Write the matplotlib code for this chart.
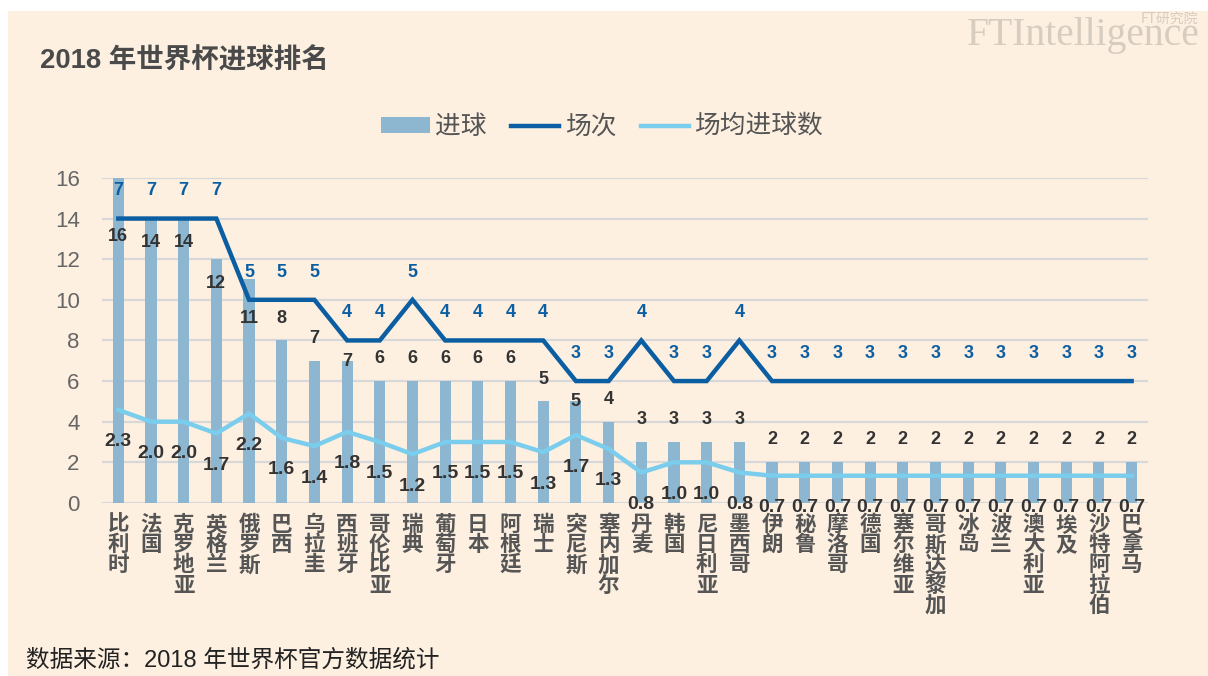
import matplotlib.pyplot as plt
from matplotlib.patches import Rectangle, Patch
from matplotlib.lines import Line2D

plt.rcParams['font.family'] = ['Liberation Sans', 'Noto Sans CJK SC', 'DejaVu Sans']

countries = ['比利时', '法国', '克罗地亚', '英格兰', '俄罗斯', '巴西', '乌拉圭', '西班牙',
             '哥伦比亚', '瑞典', '葡萄牙', '日本', '阿根廷', '瑞士', '突尼斯', '塞内加尔',
             '丹麦', '韩国', '尼日利亚', '墨西哥', '伊朗', '秘鲁', '摩洛哥', '德国',
             '塞尔维亚', '哥斯达黎加', '冰岛', '波兰', '澳大利亚', '埃及', '沙特阿拉伯', '巴拿马']
goals = [16, 14, 14, 12, 11, 8, 7, 7, 6, 6, 6, 6, 6, 5, 5, 4,
         3, 3, 3, 3, 2, 2, 2, 2, 2, 2, 2, 2, 2, 2, 2, 2]
matches = [7, 7, 7, 7, 5, 5, 5, 4, 4, 5, 4, 4, 4, 4, 3, 3,
           4, 3, 3, 4, 3, 3, 3, 3, 3, 3, 3, 3, 3, 3, 3, 3]
avg_goals = [2.29, 2.0, 2.0, 1.71, 2.2, 1.6, 1.4, 1.75, 1.5, 1.2, 1.5, 1.5, 1.5, 1.25, 1.67, 1.33,
             0.75, 1.0, 1.0, 0.75, 0.67, 0.67, 0.67, 0.67, 0.67, 0.67, 0.67, 0.67, 0.67, 0.67, 0.67, 0.67]

# goal label shifts (data units) where the label sits off the default spot
goal_shift = {0: -2.9, 1: -1.2, 2: -1.2, 3: -1.2, 4: -1.9, 7: -0.05, 14: 0.0}

bar_c = '#8DB7D1'
dark_c = '#0B5EA2'
light_c = '#7ACDEC'
bg = '#FDF0E1'

fig = plt.figure(figsize=(12.08, 6.76), dpi=100, facecolor='white')
fig.patches.append(Rectangle((8 / 1208, 0), 1, 1 - 11 / 676, transform=fig.transFigure,
                             facecolor=bg, edgecolor='none', zorder=-10))

ax = fig.add_axes([0.0844, 0.256, 0.8659, 0.4808])
ax.set_facecolor('none')
x = list(range(len(countries)))
ax.bar(x, goals, width=0.34, color=bar_c, zorder=2)
ax.set_ylim(0, 16)
ax.set_xlim(-0.5, 31.5)
ax.set_yticks(range(0, 17, 2))
ax.yaxis.grid(True, color='#D8D8D8', lw=1.6, zorder=0)
ax.set_axisbelow(True)
for s in ax.spines.values():
    s.set_visible(False)
ax.tick_params(axis='y', length=0, pad=16, labelsize=16, labelcolor='#666666')
ax.set_xticks(x, ['\n'.join(c) for c in countries])
ax.tick_params(axis='x', length=0, pad=8)
for t in ax.get_xticklabels():
    t.set_fontfamily(['Noto Sans CJK SC'])
    t.set_fontsize(15.5)
    t.set_fontweight('bold')
    t.set_color('#555555')
    t.set_linespacing(0.95)

for i, g in enumerate(goals):
    ax.text(i, g + goal_shift.get(i, 1.1), str(g), ha='center', va='center',
            fontsize=13, fontweight='bold', color='#333333', zorder=5)

ax2 = ax.twinx()
ax2.set_ylim(0, 8)
ax2.set_xlim(-0.5, 31.5)
ax2.axis('off')
ax2.plot(x, matches, color=dark_c, lw=3.2, solid_joinstyle='miter', zorder=4)
ax2.plot(x, avg_goals, color=light_c, lw=3.2, zorder=3)
for i, m in enumerate(matches):
    ax2.annotate(str(m), (i, m), xytext=(0, 20), textcoords='offset points',
                 ha='center', va='center', fontsize=13, fontweight='bold', color=dark_c)
for i, a in enumerate(avg_goals):
    ax2.annotate(f'{a + 1e-9:.1f}', (i, a), xytext=(0, -23), textcoords='offset points',
                 ha='center', va='center', fontsize=14, fontweight='bold', color='#333333')

fig.text(40 / 1208, 1 - 61 / 676, '2018 年世界杯进球排名', fontsize=19.8, fontweight='bold',
         color='#4A4A4A', va='center', ha='left')

handles = [Patch(facecolor=bar_c, edgecolor='none'),
           Line2D([], [], color=dark_c, lw=3.2),
           Line2D([], [], color=light_c, lw=3.2)]
fig.legend(handles, ['进球', '场次', '场均进球数'], loc='center',
           bbox_to_anchor=(602 / 1208, 1 - 127 / 676), ncol=3, frameon=False,
           prop={'family': ['Noto Sans CJK SC'], 'size': 18.5}, labelcolor='#555555',
           handlelength=1.9, handleheight=0.55, handletextpad=0.2, columnspacing=0.95)

fig.text(1200 / 1208, 1 - 45 / 676, 'FTIntelligence', fontsize=28.5, family='Liberation Serif',
         color='#D6CCC0', ha='right', va='baseline')
fig.text(1198 / 1208, 1 - 19 / 676, 'FT研究院', fontsize=10, family=['Noto Sans CJK SC'],
         color='#D6CCC0', ha='right', va='center')

fig.text(26 / 1208, 1 - 660 / 676, '数据来源：2018 年世界杯官方数据统计', fontsize=17,
         color='#222222', ha='left', va='center')

fig.savefig('out.png', dpi=100, facecolor=fig.get_facecolor())
